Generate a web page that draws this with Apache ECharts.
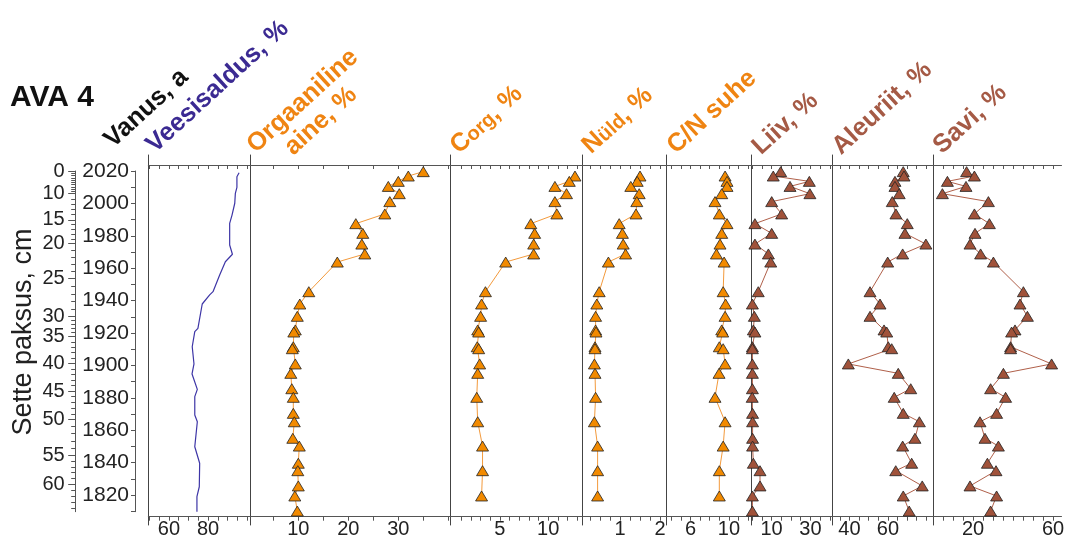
<!DOCTYPE html>
<html><head><meta charset="utf-8">
<script src="https://cdn.jsdelivr.net/npm/echarts@6/dist/echarts.min.js"></script>
<style>html,body{margin:0;padding:0;background:#fff}#c{width:1067px;height:541px}</style>
</head><body><div id="c"></div><script>
// ---------------- DATA ----------------
// sample ages (year AD) for the sediment samples
const sampleAge = [2019.6, 2016.9, 2013.6, 2010.5, 2006.0, 2001.1, 1993.5, 1987.5, 1981.5, 1974.9, 1968.8, 1963.8, 1945.5, 1937.9, 1930.3, 1921.9, 1920.6, 1911.5, 1910.3, 1900.9, 1895.1, 1885.6, 1880.3, 1870.4, 1865.2, 1855.0, 1850.2, 1839.6, 1835.0, 1825.6, 1819.4, 1810.1];
const organic = [35.0, 32.0, 30.0, 28.0, 30.2, 28.3, 27.3, 21.5, 22.9, 22.7, 23.3, 17.8, 12.1, 10.3, 9.8, 9.4, 9.1, 9.0, 8.8, 9.4, 8.5, 8.7, 9.0, 9.0, 9.2, 8.9, 10.2, 10.0, 9.9, 10.0, 9.3, 9.8];
const corg = [null, 12.78, 12.19, 10.7, 11.9, 10.7, 10.9, 8.2, 8.6, 8.5, 8.5, 5.6, 3.5, 3.1, 3.0, 2.7, 2.8, 2.65, 2.8, 2.9, 2.7, null, 2.6, null, 2.7, null, 3.2, null, 3.2, null, 3.1, null];
const nTotal = [null, 1.50, 1.43, 1.27, 1.48, 1.42, 1.40, 0.98, 1.06, 1.08, 1.14, 0.71, 0.48, 0.42, 0.39, 0.39, 0.40, 0.375, 0.375, 0.36, 0.375, null, 0.39, null, 0.36, null, 0.44, null, 0.44, null, 0.44, null];
const cnRatio = [null, 9.6, 9.8, 9.8, 9.25, 8.55, 9.0, 9.8, 9.25, 9.07, 8.7, 9.5, 9.4, 9.65, 9.6, 9.25, 9.35, 9.0, 9.4, 9.6, 8.97, null, 8.55, null, 9.6, null, 9.4, null, 9.0, null, 9.0, null];
const sand = [14.7, 10.9, 29.4, 19.5, 29.7, 10.1, 15.2, 1.5, 10.1, 1.5, 8.4, 9.6, 3.2, 0.2, 1.2, 0.7, 1.5, 0.2, 0.2, 0.2, 0.2, 0.2, 0.1, 0.3, 0.3, 0.3, 0.3, 0.7, 4.1, 4.1, 0.2, 0.2];
const silt = [68.0, 68.4, 63.7, 63.7, 65.9, 62.3, 64.2, 70.1, 68.9, 79.8, 67.7, 59.9, 50.7, 55.9, 50.7, 58.0, 59.4, 60.2, 62.0, 39.4, 65.4, 71.9, 63.3, 68.0, 76.4, 74.1, 67.7, 72.4, 64.1, 77.9, 68.0, 71.1];
const clay = [16.8, 20.7, 7.2, 16.5, 4.7, 27.7, 20.7, 28.2, 21.0, 18.5, 23.8, 30.2, 45.2, 43.5, 47.2, 41.0, 39.3, 38.8, 38.8, 59.3, 35.2, 28.8, 36.3, 31.8, 23.5, 26.0, 32.7, 27.2, 31.5, 18.5, 31.8, 28.8];
// water content (own vertices)
const waterAge = [2018.9, 2016.5, 2009.9, 2006.2, 2000.1, 1992.8, 1987.7, 1974.3, 1968.6, 1964.0, 1955.8, 1945.5, 1943.5, 1937.9, 1922.9, 1920.8, 1911.5, 1900.9, 1894.7, 1885.2, 1880.7, 1869.4, 1865.2, 1849.8, 1839.6, 1825.1, 1819.0, 1809.7];
const water = [95.8, 94.7, 94.7, 93.9, 93.6, 92.2, 91.0, 91.0, 92.4, 88.8, 85.9, 82.5, 80.8, 77.0, 74.8, 73.2, 71.9, 72.8, 71.8, 74.5, 73.2, 73.2, 74.5, 73.2, 75.7, 75.5, 74.3, 74.3];
// depth-age model (depth cm -> age)
const depthCm = [0, 10, 15, 20, 25, 30, 35, 40, 45, 50, 55, 60, 64.5];
const depthAge = [2020.0, 2006.1, 1989.8, 1975.2, 1953.6, 1930.1, 1917.8, 1901.2, 1884.2, 1866.6, 1844.7, 1826.5, 1809.7];
const depthLabels = [0, 10, 15, 20, 25, 30, 35, 40, 45, 50, 55, 60];
// age axis ticks / labels
const ageTicks = [1810, 1820, 1830, 1840, 1850, 1860, 1870, 1880, 1890, 1900, 1910, 1920, 1930, 1940, 1950, 1960, 1970, 1980, 1990, 2000, 2010, 2020];
const ageLabels = [1820, 1840, 1860, 1880, 1900, 1920, 1940, 1960, 1980, 2000, 2020];
// panel x-axis ticks / labels
const waterTicks = [50, 55, 60, 65, 70, 75, 80, 85, 90, 95, 100];
const waterLabels = [60, 80];
const organicTicks = [5, 10, 15, 20, 25, 30, 35, 40];
const organicLabels = [10, 20, 30];
const corgTicks = [1, 2, 3, 4, 5, 6, 7, 8, 9, 10, 11, 12, 13];
const corgLabels = [5, 10];
const nTicks = [0.25, 0.5, 0.75, 1, 1.25, 1.5, 1.75, 2];
const nLabels = [1, 2];
const cnTicks = [4, 5, 6, 7, 8, 9, 10, 11, 12];
const cnLabels = [6, 10];
const sandTicks = [0, 5, 10, 15, 20, 25, 30, 35, 40];
const sandLabels = [10, 30];
const siltTicks = [35, 40, 45, 50, 55, 60, 65, 70, 75, 80];
const siltLabels = [40, 60];
const clayTicks = [5, 10, 15, 20, 25, 30, 35, 40, 45, 50, 55, 60];
const clayLabels = [20, 60];

// ---------------- LAYOUT / STYLE ----------------
const F = "'Liberation Sans', Arial, Helvetica, sans-serif";
const AX = '#555';
const ORANGE = '#ef8412', ORANGE_FILL = '#f28a00', ORANGE_LINE = '#f39a3c';
const BROWN = '#a55a45', BROWN_FILL = '#a0523a', BROWN_LINE = '#b0604a';
const PURPLE = '#3b2a92';
const PANEL_TOP = 155, PANEL_H = 370;
const AGE_TOP = 2029.88, AGE_BOT = 1801.48;

const panels = [
  {left: 148.3, right: 250.7, min: 49.49, max: 101.73, ticks: waterTicks, labels: waterLabels, y: waterAge, x: water, kind: 'water'},
  {left: 250.7, right: 450.5, min: 0.48, max: 40.44, ticks: organicTicks, labels: organicLabels, y: sampleAge, x: organic, kind: 'orange'},
  {left: 450.5, right: 582.7, min: -0.12, max: 13.58, ticks: corgTicks, labels: corgLabels, y: sampleAge, x: corg, kind: 'orange'},
  {left: 582.7, right: 666.7, min: 0.0675, max: 2.1675, ticks: nTicks, labels: nLabels, y: sampleAge, x: nTotal, kind: 'orange'},
  {left: 666.7, right: 751.5, min: 3.52, max: 12.35, ticks: cnTicks, labels: cnLabels, y: sampleAge, x: cnRatio, kind: 'orange'},
  {left: 751.5, right: 832, min: -0.26, max: 41.03, ticks: sandTicks, labels: sandLabels, y: sampleAge, x: sand, kind: 'brown'},
  {left: 832, right: 933, min: 30.9, max: 83.5, ticks: siltTicks, labels: siltLabels, y: sampleAge, x: silt, kind: 'brown'},
  {left: 933, right: 1061.5, min: 0, max: 64.25, ticks: clayTicks, labels: clayLabels, y: sampleAge, x: clay, kind: 'brown'}
];

function depthToAge(d) {
  for (let i = 0; i < depthCm.length - 1; i++) {
    if (d >= depthCm[i] && d <= depthCm[i + 1]) {
      const t = (d - depthCm[i]) / (depthCm[i + 1] - depthCm[i]);
      return depthAge[i] + t * (depthAge[i + 1] - depthAge[i]);
    }
  }
  return depthAge[depthAge.length - 1];
}
const minorDepthTicks = [];
for (let d = 0; d <= 64; d++) minorDepthTicks.push(depthToAge(d));
const majorDepthTicks = depthLabels.map(depthToAge);
const depthLookup = {};
depthLabels.forEach((d, i) => { depthLookup[majorDepthTicks[i].toFixed(4)] = d; });

const grids = [], xAxes = [], yAxes = [], series = [];
panels.forEach((p, i) => {
  grids.push({left: p.left, top: PANEL_TOP, width: p.right - p.left, height: PANEL_H, containLabel: false, outerBoundsMode: 'none'});
  const lineStyle = {color: AX, width: 1};
  xAxes.push({
    gridIndex: i, type: 'value', position: 'bottom', offset: -8.3, min: p.min, max: p.max,
    axisLine: {show: true, onZero: false, lineStyle},
    axisTick: {show: true, customValues: p.ticks, length: 4, lineStyle},
    axisLabel: {show: true, customValues: p.labels, margin: 3, fontSize: 20, color: '#222', fontFamily: F},
    splitLine: {show: false}
  });
  xAxes.push({
    gridIndex: i, type: 'value', position: 'top', offset: -10, min: p.min, max: p.max,
    axisLine: {show: true, onZero: false, lineStyle},
    axisTick: {show: true, inside: true, customValues: p.ticks, length: 4, lineStyle},
    axisLabel: {show: false}, splitLine: {show: false}
  });
  yAxes.push({
    gridIndex: i, type: 'value', position: 'left', min: AGE_BOT, max: AGE_TOP,
    axisLine: {show: true, onZero: false, lineStyle: {color: '#444', width: 1}},
    axisTick: {show: false}, axisLabel: {show: false}, splitLine: {show: false}
  });
  const data = [];
  p.x.forEach((v, k) => { if (v !== null) data.push([v, p.y[k]]); });
  if (p.kind === 'water') {
    series.push({type: 'line', xAxisIndex: 2 * i, yAxisIndex: i, data, symbol: 'none',
      lineStyle: {color: '#3d35a6', width: 1.2}, clip: false});
  } else {
    const o = p.kind === 'orange';
    series.push({type: 'line', xAxisIndex: 2 * i, yAxisIndex: i, data, symbol: 'triangle', symbolSize: [12, 10],
      connectNulls: true, clip: false,
      lineStyle: {color: o ? ORANGE_LINE : BROWN_LINE, width: 1},
      itemStyle: {color: o ? ORANGE_FILL : BROWN_FILL, borderColor: '#222', borderWidth: 0.8}});
  }
});

// axis grid for depth + age
const AG = panels.length;
grids.push({left: 75.7, top: 171, width: 59.3, height: 340.7, containLabel: false, outerBoundsMode: 'none'});
xAxes.push({gridIndex: AG, type: 'value', show: false, min: 0, max: 1});
yAxes.push({
  gridIndex: AG, type: 'value', position: 'right', min: 1809.7, max: 2020,
  axisLine: {show: true, onZero: false, lineStyle: {color: AX, width: 1}},
  axisTick: {show: true, inside: true, customValues: ageTicks, length: 4, lineStyle: {color: AX}},
  axisLabel: {show: true, inside: true, customValues: ageLabels, margin: 6, fontSize: 21, color: '#222', fontFamily: F,
    formatter: v => String(Math.round(v))},
  splitLine: {show: false}
});
yAxes.push({
  gridIndex: AG, type: 'value', position: 'left', min: 1809.7, max: 2020,
  axisLine: {show: true, onZero: false, lineStyle: {color: AX, width: 1}},
  axisTick: {show: true, customValues: minorDepthTicks, length: 4.5, lineStyle: {color: AX}},
  axisLabel: {show: false}, splitLine: {show: false}
});
yAxes.push({
  gridIndex: AG, type: 'value', position: 'left', min: 1809.7, max: 2020,
  axisLine: {show: false, onZero: false},
  axisTick: {show: true, customValues: majorDepthTicks, length: 7.5, lineStyle: {color: AX}},
  axisLabel: {show: true, customValues: majorDepthTicks, margin: 11, fontSize: 20, color: '#222', fontFamily: F,
    formatter: v => { const d = depthLookup[Number(v).toFixed(4)]; return d === undefined ? '' : String(d); }},
  splitLine: {show: false}
});

const R = 42.5 * Math.PI / 180;
const TS = 25.5;
function title(x, y, text, fill) {
  return {type: 'text', x, y, rotation: R, z: 10,
    style: {text, fill, fontSize: TS, fontWeight: 'bold', fontFamily: F,
      textAlign: 'left', textVerticalAlign: 'bottom', align: 'left', verticalAlign: 'bottom'}};
}
function richTitle(x, y, big, small, rest) {
  return {type: 'text', x, y, rotation: R, z: 10,
    style: {text: '{a|' + big + '}{b|' + small + '}{a|' + rest + '}',
      textAlign: 'left', textVerticalAlign: 'bottom', align: 'left', verticalAlign: 'bottom',
      rich: {
        a: {fontSize: TS, fontWeight: 'bold', fontFamily: F, fill: ORANGE, color: ORANGE, verticalAlign: 'bottom'},
        b: {fontSize: 20, fontWeight: 'bold', fontFamily: F, fill: ORANGE, color: ORANGE, verticalAlign: 'bottom', padding: [0, 0, 1, 0]}
      }}};
}
const graphics = [
  {type: 'text', x: 10, y: 98, style: {text: 'AVA 4', fill: '#111', fontSize: 30, fontWeight: 'bold', fontFamily: F,
    textAlign: 'left', textVerticalAlign: 'middle', align: 'left', verticalAlign: 'middle'}},
  title(117, 153, 'Vanus, a', '#111'),
  title(159, 158, 'Veesisaldus, %', PURPLE),
  {type: 'text', x: 330, y: 131, rotation: R, z: 10,
    style: {text: 'Orgaaniline\naine, %', fill: ORANGE, fontSize: TS, fontWeight: 'bold', fontFamily: F, lineHeight: 27,
      textAlign: 'center', textVerticalAlign: 'bottom', align: 'center', verticalAlign: 'bottom'}},
  richTitle(463, 159, 'C', 'org', ', %'),
  richTitle(595, 159, 'N', 'üld', ', %'),
  title(680, 159, 'C/N suhe', ORANGE),
  title(765, 160, 'Liiv, %', BROWN),
  title(845, 160, 'Aleuriit, %', BROWN),
  title(946, 159, 'Savi, %', BROWN),
  {type: 'text', x: 24, y: 332, rotation: Math.PI / 2,
    style: {text: 'Sette paksus, cm', fill: '#222', fontSize: 27, fontFamily: F,
      textAlign: 'center', textVerticalAlign: 'middle', align: 'center', verticalAlign: 'middle'}}
];

const chart = echarts.init(document.getElementById('c'), null, {renderer: 'canvas'});
chart.setOption({
  animation: false,
  backgroundColor: '#fff',
  grid: grids, xAxis: xAxes, yAxis: yAxes, series,
  graphic: graphics
});
</script></body></html>
